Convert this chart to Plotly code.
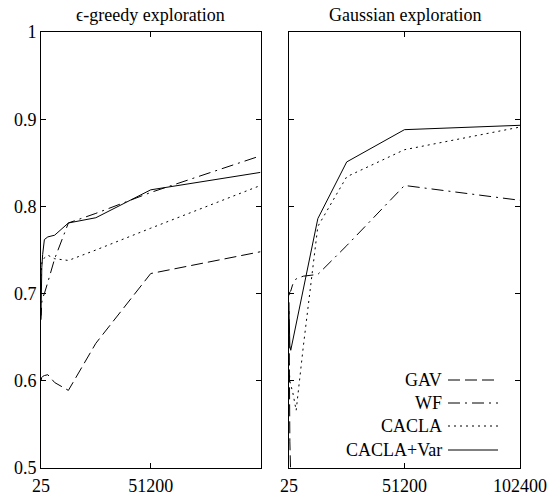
import plotly.graph_objects as go

# ---- data ----
steps = [25, 50, 100, 200, 400, 800, 1600, 3200, 6400, 12800, 25600, 51200, 102400]

eg_gav      = [0.600, 0.601, 0.602, 0.603, 0.604, 0.605, 0.606, 0.607, 0.598, 0.589, 0.643, 0.723, 0.748]
eg_wf       = [0.670, 0.675, 0.680, 0.685, 0.690, 0.695, 0.700, 0.713, 0.740, 0.781, 0.792, 0.816, 0.858]
eg_cacla    = [0.720, 0.725, 0.728, 0.732, 0.735, 0.738, 0.741, 0.744, 0.740, 0.738, 0.750, 0.775, 0.824]
eg_caclavar = [0.675, 0.690, 0.700, 0.715, 0.730, 0.745, 0.762, 0.765, 0.767, 0.781, 0.787, 0.819, 0.839]

ga_gav      = [0.690, 0.650, 0.610, 0.570, 0.530, 0.490, 0.450, 0.430, 0.420, 0.410, 0.400, 0.400, 0.400]
ga_wf       = [0.698, 0.699, 0.700, 0.701, 0.702, 0.703, 0.710, 0.717, 0.720, 0.722, 0.755, 0.824, 0.807]
ga_cacla    = [0.620, 0.615, 0.610, 0.605, 0.600, 0.595, 0.588, 0.566, 0.640, 0.777, 0.834, 0.865, 0.891]
ga_caclavar = [0.680, 0.670, 0.660, 0.650, 0.640, 0.635, 0.645, 0.665, 0.705, 0.786, 0.851, 0.888, 0.893]

series_names = ["GAV", "WF", "CACLA", "CACLA+Var"]
panel_titles = ["\u03f5-greedy exploration", "Gaussian exploration"]
y_ticks = [0.5, 0.6, 0.7, 0.8, 0.9, 1.0]
y_ticktext = ["0.5", "0.6", "0.7", "0.8", "0.9", "1"]
x_ticks_left = [25, 51200]
x_ticks_right = [25, 51200, 102400]

# ---- styling ----
FONT = "Liberation Serif"
dashes = ["12px,5px", "12px,5px,2px,5px", "2px,4px", "solid"]

W, H = 551, 494
ML, MR, MT, MB = 41, 31, 32, 26
PW = W - ML - MR
PH = H - MT - MB

def px_x(p):
    return (p - ML) / PW

def px_y(p):
    return (H - MB - p) / PH

fig = go.Figure()

left = [eg_gav, eg_wf, eg_cacla, eg_caclavar]
right = [ga_gav, ga_wf, ga_cacla, ga_caclavar]

for name, ys, d in zip(series_names, left, dashes):
    fig.add_trace(go.Scatter(x=steps, y=ys, mode="lines", name=name,
                             line=dict(color="black", width=1, dash=d),
                             xaxis="x", yaxis="y", showlegend=False))
for name, ys, d in zip(series_names, right, dashes):
    fig.add_trace(go.Scatter(x=steps, y=ys, mode="lines", name=name,
                             line=dict(color="black", width=1, dash=d),
                             xaxis="x2", yaxis="y2", showlegend=False))

axis_common = dict(showline=True, linecolor="black", linewidth=1, mirror="ticks",
                   ticks="inside", ticklen=5, tickcolor="black", tickwidth=1,
                   showgrid=False, zeroline=False, automargin=False,
                   tickfont=dict(family=FONT, size=18, color="black"))

fig.update_layout(
    template="none",
    width=W, height=H,
    margin=dict(l=ML, r=MR, t=MT, b=MB, autoexpand=False),
    plot_bgcolor="white", paper_bgcolor="white",
    xaxis=dict(domain=[0, px_x(260.5)], range=[25, 102400],
               tickvals=x_ticks_left, ticktext=[str(v) for v in x_ticks_left],
               ticklabelstandoff=1, anchor="y", **axis_common),
    yaxis=dict(domain=[0, 1], range=[0.5, 1.0], tickvals=y_ticks, ticktext=y_ticktext,
               anchor="x", **axis_common),
    xaxis2=dict(domain=[px_x(289), 1], range=[25, 102400],
                tickvals=x_ticks_right, ticktext=[str(v) for v in x_ticks_right],
                ticklabelstandoff=1, anchor="y2", **axis_common),
    yaxis2=dict(domain=[0, 1], range=[0.5, 1.0], tickvals=y_ticks,
                showticklabels=False, anchor="x2", **axis_common),
    showlegend=False,
)

annotations = []
# panel titles
for title, cx in zip(panel_titles, [(41 + 260.5) / 2, (289 + 520) / 2]):
    annotations.append(dict(text=title, x=px_x(cx), y=px_y(15), xref="paper", yref="paper",
                            showarrow=False, xanchor="center", yanchor="middle",
                            font=dict(family=FONT, size=18, color="black")))

# custom legend (text right-aligned, sample line on the right)
legend_rows = [380, 403, 426, 450]
shapes = []
for name, d, ry in zip(series_names, dashes, legend_rows):
    annotations.append(dict(text=name, x=px_x(444), y=px_y(ry), xref="paper", yref="paper",
                            showarrow=False, xanchor="right", yanchor="middle",
                            font=dict(family=FONT, size=18, color="black")))
    shapes.append(dict(type="line", xref="paper", yref="paper",
                       x0=px_x(448), x1=px_x(498), y0=px_y(ry), y1=px_y(ry),
                       line=dict(color="black", width=1, dash=d)))

fig.update_layout(annotations=annotations, shapes=shapes)

fig.write_html("out.html")
